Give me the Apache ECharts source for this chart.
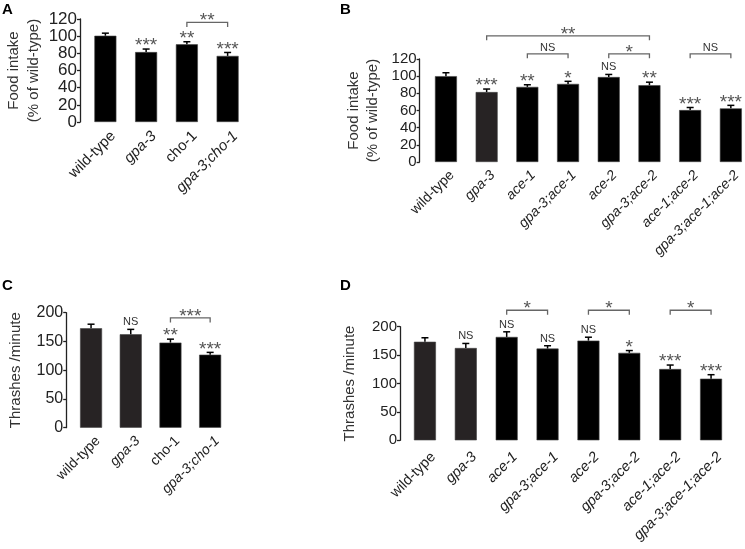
<!DOCTYPE html>
<html><head><meta charset="utf-8">
<script src="https://cdn.jsdelivr.net/npm/echarts@6/dist/echarts.min.js"></script>
<style>html,body{margin:0;padding:0;background:#fff}#c{width:745px;height:549px}</style>
</head><body><div id="c"></div>
<script>
// ---------- DATA ----------
const catsA = ['wild-type', 'gpa-3', 'cho-1', 'gpa-3;cho-1'];
const foodA = [100.5, 81.5, 90.5, 77];
const foodErrA = [3, 3.5, 3, 4];
const sigA = ['', '***', '**', '***'];
const bracketsA = [[2, 3, '**']];

const catsB = ['wild-type', 'gpa-3', 'ace-1', 'gpa-3;ace-1', 'ace-2', 'gpa-3;ace-2', 'ace-1;ace-2', 'gpa-3;ace-1;ace-2'];
const foodB = [100, 81.5, 87.5, 91, 99, 89.5, 60.5, 62.5];
const foodErrB = [4, 3.5, 2.5, 3, 3, 3.5, 3, 3.5];
const sigB = ['', '***', '**', '*', 'NS', '**', '***', '***'];
const bracketsB = [[1, 5, '**'], [2, 3, 'NS'], [4, 5, '*'], [6, 7, 'NS']];

const catsC = ['wild-type', 'gpa-3', 'cho-1', 'gpa-3;cho-1'];
const thrashC = [173, 162.5, 148, 127];
const thrashErrC = [7, 8.5, 6, 4];
const sigC = ['', 'NS', '**', '***'];
const bracketsC = [[2, 3, '***']];

const catsD = ['wild-type', 'gpa-3', 'ace-1', 'gpa-3;ace-1', 'ace-2', 'gpa-3;ace-2', 'ace-1;ace-2', 'gpa-3;ace-1;ace-2'];
const thrashD = [173.5, 162.5, 182, 161.5, 175.5, 154, 125.5, 108.5];
const thrashErrD = [7, 8, 9, 5, 6, 4, 7, 7];
const sigD = ['', 'NS', 'NS', 'NS', 'NS', '*', '***', '***'];
const bracketsD = [[2, 3, '*'], [4, 5, '*'], [6, 7, '*']];

const foodTicks = {min: 0, max: 120, interval: 20};
const thrashTicks = {min: 0, max: 200, interval: 50};
const foodName = 'Food intake\n(% of wild-type)';
const thrashName = 'Thrashes /minute';

// ---------- STYLE / LAYOUT ----------
const FONT = 'Liberation Sans, Arial, sans-serif';
const uprightNames = ['wild-type', 'cho-1'];
const panels = [
  {letter: 'A', lx: 2, ly: 2, cats: catsA, vals: foodA, errs: foodErrA, sig: sigA, br: bracketsA, ticks: foodTicks, name: foodName,
   left: 85, top: 19, width: 163, height: 103, axOff: 5, tickFs: 17, labFs: 15, labLH: 22, labMargin: 4, nameGap: 36, nameLH: 20,
   gray: [], brLevels: [116], brLevelMap: [0]},
  {letter: 'B', lx: 340, ly: 2, cats: catsB, vals: foodB, errs: foodErrB, sig: sigB, br: bracketsB, ticks: foodTicks, name: foodName,
   left: 425.6, top: 59, width: 325.6, height: 103, axOff: 6, tickFs: 15, labFs: 14, labLH: 17, labMargin: 5, nameGap: 37, nameLH: 19,
   gray: [1], brLevels: [126, 147], brLevelMap: [1, 0, 0, 0]},
  {letter: 'C', lx: 2, ly: 278, cats: catsC, vals: thrashC, errs: thrashErrC, sig: sigC, br: bracketsC, ticks: thrashTicks, name: thrashName,
   left: 71.2, top: 312.7, width: 158.8, height: 115, axOff: 5, tickFs: 16, labFs: 14, labLH: 20, labMargin: 4, nameGap: 43, nameLH: 15,
   gray: [0, 1], brLevels: [191], brLevelMap: [0]},
  {letter: 'D', lx: 340, ly: 278, cats: catsD, vals: thrashD, errs: thrashErrD, sig: sigD, br: bracketsD, ticks: thrashTicks, name: thrashName,
   left: 404.5, top: 326.7, width: 327, height: 113.6, axOff: 4.5, tickFs: 15, labFs: 14.5, labLH: 24, labMargin: 6, nameGap: 42.5, nameLH: 15,
   gray: [0, 1], brLevels: [229], brLevelMap: [0, 0, 0]}
];

const grid = [], xAxis = [], yAxis = [], series = [], title = [];

function textFor(s, x, y) {
  const isStar = s.indexOf('*') >= 0;
  return {
    type: 'text', x: x, y: isStar ? y - 2 : y - 6,
    style: {text: s, fill: isStar ? '#555' : '#333', font: (isStar ? '19px ' : '11px ') + FONT,
            align: 'center', verticalAlign: 'middle'}
  };
}

panels.forEach((p, gi) => {
  title.push({text: p.letter, left: p.lx, top: p.ly, padding: 0,
    textStyle: {fontFamily: FONT, fontWeight: 'bold', fontSize: 15, color: '#000'}});
  grid.push({left: p.left, top: p.top, width: p.width, height: p.height, containLabel: false, outerBoundsMode: 'none'});
  xAxis.push({
    type: 'category', gridIndex: gi, data: p.cats,
    axisLine: {show: false}, axisTick: {show: false},
    axisLabel: {
      interval: 0, rotate: 45, margin: p.labMargin, verticalAlign: 'top', lineHeight: p.labLH,
      formatter: v => uprightNames.indexOf(v) >= 0 ? '{n|' + v + '}' : '{i|' + v + '}',
      rich: {
        n: {fontFamily: FONT, fontSize: p.labFs, color: '#222', lineHeight: p.labLH},
        i: {fontFamily: FONT, fontSize: p.labFs, color: '#222', fontStyle: 'italic', lineHeight: p.labLH}
      }
    }
  });
  yAxis.push({
    type: 'value', gridIndex: gi, min: p.ticks.min, max: p.ticks.max, interval: p.ticks.interval,
    offset: p.axOff, splitLine: {show: false},
    axisLine: {show: true, lineStyle: {color: '#222', width: 1.3}},
    axisTick: {show: true, length: 3, lineStyle: {color: '#222', width: 1.3}},
    axisLabel: {fontFamily: FONT, fontSize: p.tickFs, color: '#222', margin: 3},
    name: p.name, nameLocation: 'middle', nameRotate: 90, nameGap: p.nameGap, nameMoveOverlap: false,
    nameTextStyle: {fontFamily: FONT, fontSize: 15, color: '#333', lineHeight: p.nameLH, align: 'center'}
  });
  // bars
  series.push({
    type: 'bar', xAxisIndex: gi, yAxisIndex: gi, barWidth: 22, z: 2,
    data: p.vals.map((v, i) => ({value: v, itemStyle: {color: p.gray.indexOf(i) >= 0 ? '#272324' : '#000'}})),
    itemStyle: {borderColor: '#444', borderWidth: 0.6}
  });
  // error bars
  series.push({
    type: 'custom', xAxisIndex: gi, yAxisIndex: gi, z: 3, clip: false,
    data: p.vals.map((v, i) => [i, v, v + p.errs[i]]),
    encode: {x: 0, y: [1, 2]},
    renderItem: (params, api) => {
      const a = api.coord([api.value(0), api.value(1)]);
      const b = api.coord([api.value(0), api.value(2)]);
      return {type: 'group', children: [
        {type: 'line', shape: {x1: a[0], y1: a[1], x2: b[0], y2: b[1]}, style: {stroke: '#000', lineWidth: 1.5}},
        {type: 'line', shape: {x1: b[0] - 3.5, y1: b[1], x2: b[0] + 3.5, y2: b[1]}, style: {stroke: '#000', lineWidth: 1.5}}
      ]};
    }
  });
  // significance labels over bars
  series.push({
    type: 'custom', xAxisIndex: gi, yAxisIndex: gi, z: 4, clip: false,
    data: p.vals.map((v, i) => [i, v + p.errs[i]]),
    encode: {x: 0, y: 1},
    renderItem: (params, api) => {
      const s = p.sig[params.dataIndex];
      if (!s) return null;
      const c = api.coord([api.value(0), api.value(1)]);
      return textFor(s, c[0], c[1] - 1);
    }
  });
  // brackets
  series.push({
    type: 'custom', xAxisIndex: gi, yAxisIndex: gi, z: 4, clip: false,
    data: p.br.map((b, k) => [b[0], b[1], p.brLevels[p.brLevelMap[k]]]),
    encode: {x: [0, 1], y: 2},
    renderItem: (params, api) => {
      const b = p.br[params.dataIndex];
      const y = api.value(2);
      const p1 = api.coord([b[0], y]);
      const p2 = api.coord([b[1], y]);
      const drop = 4.5;
      return {type: 'group', children: [
        {type: 'polyline', shape: {points: [[p1[0], p1[1] + drop], [p1[0], p1[1]], [p2[0], p2[1]], [p2[0], p2[1] + drop]]},
         style: {stroke: '#666', lineWidth: 1.3, fill: null}},
        textFor(b[2], (p1[0] + p2[0]) / 2, p1[1] + 0.5)
      ]};
    }
  });
});

const chart = echarts.init(document.getElementById('c'), null, {renderer: 'canvas'});
chart.setOption({animation: false, backgroundColor: '#fff', title, grid, xAxis, yAxis, series});
</script>
</body></html>
